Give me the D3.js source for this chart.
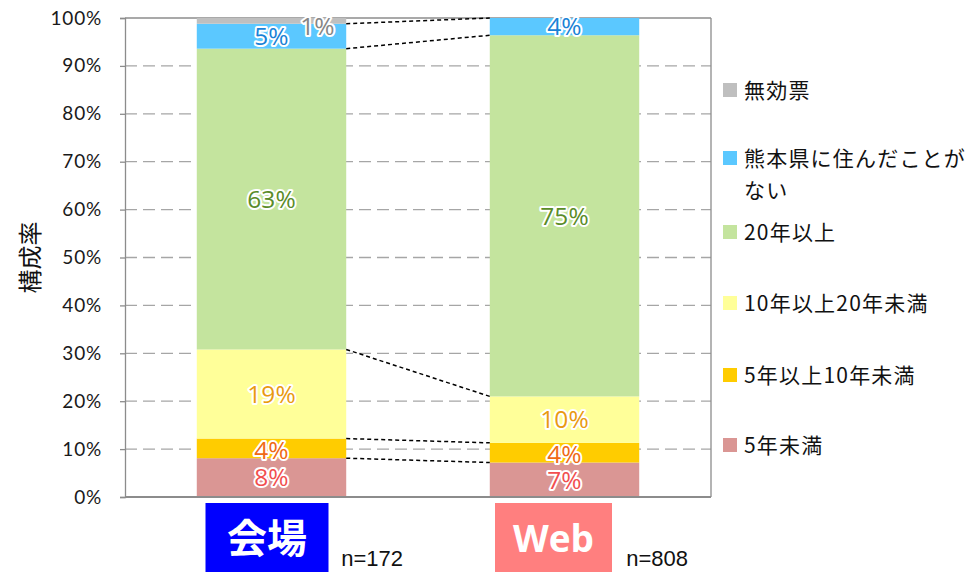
<!DOCTYPE html>
<html><head><meta charset="utf-8">
<script src="https://cdn.jsdelivr.net/npm/d3@7"></script>
<style>
body{margin:0;background:#fff;}
svg{display:block;}
</style></head><body>
<svg id="c" width="971" height="572"></svg>
<script>
const categories = ["会場", "Web"];
const sampleSizes = ["n=172", "n=808"];
const seriesNames = ["5年未満", "5年以上10年未満", "10年以上20年未満", "20年以上", "熊本県に住んだことがない", "無効票"];
const values会場 = [8.1, 4.1, 18.6, 62.8, 5.2, 1.2];
const valuesWeb = [7.2, 4.1, 9.7, 75.4, 3.6, 0.0];
const yTicks = [0, 10, 20, 30, 40, 50, 60, 70, 80, 90, 100];
const seriesColors = ["#da9694", "#ffcc00", "#ffff99", "#c4e49e", "#5bc8ff", "#bfbfbf"];
const labelColors = ["#f24f4f", "#f06a14", "#e99a10", "#5a8c28", "#1a82d6", "#858585"];
const catBoxColors = ["#0000ff", "#ff7f7f"];

const svg = d3.select("#c");
const M = {left:125, right:711, top:18, bottom:497};
const y = d3.scaleLinear().domain([0,100]).range([M.bottom, M.top]);
const x = d3.scaleBand().domain(categories).range([M.left, M.right]).paddingInner(0.49).paddingOuter(0.245);
const numFont = "Lato, 'Noto Sans', sans-serif";
const lblFont = "'Open Sans', 'Noto Sans', sans-serif";
const jpFont = "'Noto Sans CJK JP', sans-serif";

// gridlines
svg.append("g").selectAll("line").data(yTicks.filter(t=>t>0 && t<100)).join("line")
  .attr("x1", M.left).attr("x2", M.right).attr("y1", d=>y(d)).attr("y2", d=>y(d))
  .attr("stroke", "#a6a6a6").attr("stroke-width", 1.3).attr("stroke-dasharray", "12,6");

// border top & right
svg.append("line").attr("x1", M.left).attr("x2", M.right).attr("y1", y(100)).attr("y2", y(100)).attr("stroke", "#8c8c8c").attr("stroke-width", 1.3);
svg.append("line").attr("x1", M.right).attr("x2", M.right).attr("y1", y(100)).attr("y2", y(0)).attr("stroke", "#8c8c8c").attr("stroke-width", 1.3);

// stacks
const data = categories.map((c,i)=>{
  const vals = i===0 ? values会場 : valuesWeb;
  const o = {cat:c};
  seriesNames.forEach((s,j)=>o[s]=vals[j]);
  return o;
});
const stack = d3.stack().keys(seriesNames)(data);

stack.forEach((layer,j)=>{
  svg.append("g").selectAll("rect").data(layer).join("rect")
    .attr("x", d=>x(d.data.cat)).attr("width", x.bandwidth())
    .attr("y", d=>y(d[1])).attr("height", d=>y(d[0])-y(d[1]))
    .attr("fill", seriesColors[j]);
});

// series lines (connectors)
const x0 = x(categories[0]) + x.bandwidth();
const x1 = x(categories[1]);
stack.slice(0, seriesNames.length-1).forEach((layer)=>{
  svg.append("line").attr("x1", x0).attr("x2", x1)
    .attr("y1", y(layer[0][1])).attr("y2", y(layer[1][1]))
    .attr("stroke", "#000").attr("stroke-width", 1.5).attr("stroke-dasharray", "4,3");
});

// axis
const yAxis = d3.axisLeft(y).tickValues(yTicks).tickFormat(d=>d+"%").tickSize(5).tickPadding(18);
const ga = svg.append("g").attr("transform", `translate(${M.left},0)`).call(yAxis);
ga.select(".domain").attr("stroke", "#8c8c8c").attr("stroke-width", 1.3);
ga.selectAll(".tick line").attr("stroke", "#8c8c8c").attr("stroke-width", 1.3);
ga.selectAll(".tick text").attr("font-family", numFont).attr("font-size", 19).attr("letter-spacing", 0.8).attr("fill", "#1a1a1a");
// bottom axis line
svg.append("line").attr("x1", M.left).attr("x2", M.right).attr("y1", y(0)).attr("y2", y(0)).attr("stroke", "#8c8c8c").attr("stroke-width", 2);

// value labels
stack.forEach((layer,j)=>{
  layer.forEach((d,i)=>{
    const v = d[1]-d[0];
    if (v <= 0) return;
    let cx = x(d.data.cat) + x.bandwidth()/2;
    let cy = (y(d[0])+y(d[1]))/2;
    if (j===5) { cx += 46; cy = y(d[0]) + 2; }
    if (j===1) cy += 1.5;
    svg.append("text").attr("x", cx).attr("y", cy).attr("dy", "0.36em")
      .attr("text-anchor", "middle").attr("font-family", lblFont).attr("font-size", 24.5)
      .attr("fill", labelColors[j]).attr("stroke", "#fff").attr("stroke-width", 4)
      .attr("stroke-linejoin", "round").attr("paint-order", "stroke")
      .text(Math.round(v) + "%");
  });
});

// y title
svg.append("text").attr("transform", `translate(30,${(M.top+M.bottom)/2}) rotate(-90)`)
  .attr("text-anchor", "middle").attr("dy", "0.36em").attr("font-family", jpFont).attr("font-size", 24).attr("fill", "#111").text("構成率");

// category boxes
const boxW = [123, 117];
const nOffset = [-5, -13];
categories.forEach((c,i)=>{
  const cx = x(c) + x.bandwidth()/2 - (i===0 ? 4.5 : 11);
  svg.append("rect").attr("x", cx - boxW[i]/2).attr("y", 503).attr("width", boxW[i]).attr("height", 72).attr("fill", catBoxColors[i]);
  svg.append("text").attr("x", cx).attr("y", 539).attr("dy", "0.36em").attr("text-anchor", "middle")
    .attr("font-family", i===0 ? jpFont : "'Open Sans', sans-serif").attr("font-weight", "bold").attr("font-size", i===0 ? 40 : 37)
    .attr("fill", "#fff").text(c);
  svg.append("text").attr("x", x(c) + x.bandwidth() + nOffset[i]).attr("y", 566).attr("font-family", "'Liberation Sans', sans-serif")
    .attr("font-size", 22).attr("fill", "#111").text(sampleSizes[i]);
});

// legend
const legendY = [90, 158, 232, 303, 375, 445];
const legendItems = seriesNames.slice().reverse();
const legendCols = seriesColors.slice().reverse();
legendItems.forEach((name,k)=>{
  svg.append("rect").attr("x", 723).attr("y", legendY[k]-7).attr("width", 14).attr("height", 14).attr("fill", legendCols[k]);
  const t = svg.append("text").attr("x", 744).attr("y", legendY[k]).attr("dy", "0.36em")
    .attr("font-family", jpFont).attr("font-size", 21).attr("letter-spacing", 1.2).attr("fill", "#111");
  if (name === "熊本県に住んだことがない") {
    t.append("tspan").attr("x", 744).text("熊本県に住んだことが");
    t.append("tspan").attr("x", 744).attr("dy", "1.55em").text("ない");
  } else t.text(name);
});
</script></body></html>
